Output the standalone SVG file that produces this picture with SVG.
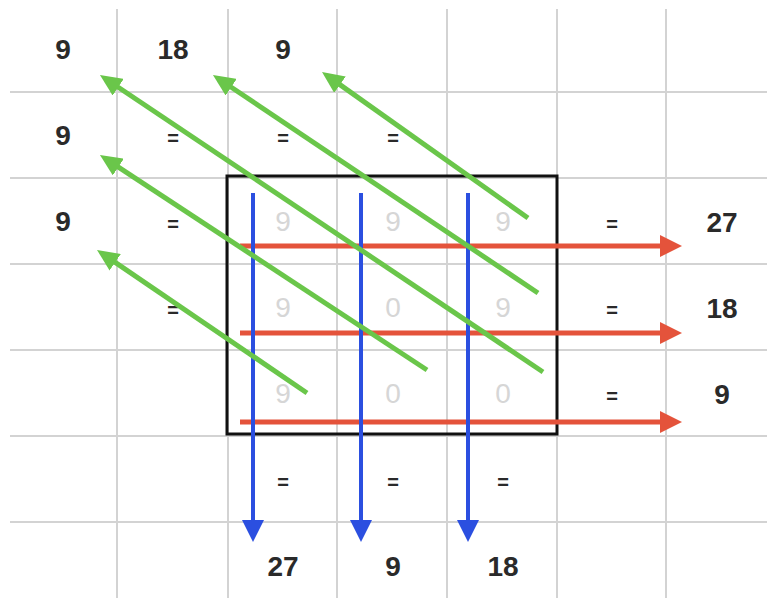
<svg xmlns="http://www.w3.org/2000/svg" width="767" height="598" viewBox="0 0 767 598">
<style>
.grid{stroke:#d3d3d3;stroke-width:2;fill:none}
.t{font-family:"Liberation Sans",Arial,sans-serif;font-size:28px;font-weight:bold;fill:#2a2a2a;text-anchor:middle}
.eq{font-family:"Liberation Sans",Arial,sans-serif;font-size:20px;font-weight:bold;fill:#2a2a2a;text-anchor:middle}
.g{font-family:"Liberation Sans",Arial,sans-serif;font-size:28px;fill:#d6d6d6;text-anchor:middle}
.green{stroke:#6ac64a;stroke-width:5;fill:none;marker-end:url(#ag)}
.blue{stroke:#2b4fe0;stroke-width:4;fill:none;marker-end:url(#ab)}
.red{stroke:#e4533b;stroke-width:5;fill:none;marker-end:url(#ar)}
</style>
<defs>
<marker id="ag" markerUnits="userSpaceOnUse" markerWidth="22" markerHeight="20" refX="4" refY="10" orient="auto"><path d="M0,0 L22,10 L0,20 z" fill="#6ac64a"/></marker>
<marker id="ab" markerUnits="userSpaceOnUse" markerWidth="22" markerHeight="22" refX="4" refY="11" orient="auto"><path d="M0,0 L22,11 L0,22 z" fill="#2b4fe0"/></marker>
<marker id="ar" markerUnits="userSpaceOnUse" markerWidth="22" markerHeight="22" refX="4" refY="11" orient="auto"><path d="M0,0 L22,11 L0,22 z" fill="#e4533b"/></marker>
</defs>
<rect width="767" height="598" fill="#ffffff"/>
<g id="grid" class="grid">
<path d="M117,9V598M228,9V598M337,9V598M447,9V598M557,9V598M666,9V598"/>
<path d="M10,92H767M10,178H767M10,264H767M10,350H767M10,436H767M10,522H767"/>
</g>
<g id="box"><rect x="227" y="176" width="330" height="258" fill="none" stroke="#111" stroke-width="3"/></g>
<g id="inner-digits">
<text class="g" x="283" y="231">9</text><text class="g" x="393" y="231">9</text><text class="g" x="503" y="231">9</text>
<text class="g" x="283" y="317">9</text><text class="g" x="393" y="317">0</text><text class="g" x="503" y="317">9</text>
<text class="g" x="283" y="403">9</text><text class="g" x="393" y="403">0</text><text class="g" x="503" y="403">0</text>
</g>
<g id="labels">
<text class="t" x="63" y="59">9</text><text class="t" x="173" y="59">18</text><text class="t" x="283" y="59">9</text>
<text class="t" x="63" y="145">9</text><text class="eq" x="173" y="145">=</text><text class="eq" x="283" y="145">=</text><text class="eq" x="393" y="145">=</text>
<text class="t" x="63" y="231">9</text><text class="eq" x="173" y="231">=</text><text class="eq" x="612" y="231">=</text><text class="t" x="722" y="232">27</text>
<text class="eq" x="173" y="317">=</text><text class="eq" x="612" y="317">=</text><text class="t" x="722" y="318">18</text>
<text class="eq" x="612" y="403">=</text><text class="t" x="722" y="404">9</text>
<text class="eq" x="283" y="489">=</text><text class="eq" x="393" y="489">=</text><text class="eq" x="503" y="489">=</text>
<text class="t" x="283" y="576">27</text><text class="t" x="393" y="576">9</text><text class="t" x="503" y="576">18</text>
</g>
<g id="connectors">
<line class="red" x1="240" y1="246" x2="664" y2="246"/>
<line class="red" x1="240" y1="333" x2="664" y2="333"/>
<line class="red" x1="240" y1="422" x2="664" y2="422"/>
<line class="blue" x1="253" y1="193" x2="253" y2="524"/>
<line class="blue" x1="361" y1="193" x2="361" y2="524"/>
<line class="blue" x1="468" y1="193" x2="468" y2="524"/>
<line class="green" x1="528" y1="218" x2="336.7" y2="82.4"/>
<line class="green" x1="538" y1="293" x2="227.9" y2="85"/>
<line class="green" x1="543" y1="372" x2="114.9" y2="85"/>
<line class="green" x1="427" y1="370" x2="115" y2="164.9"/>
<line class="green" x1="307" y1="393" x2="111.9" y2="260.1"/>
</g>
</svg>
